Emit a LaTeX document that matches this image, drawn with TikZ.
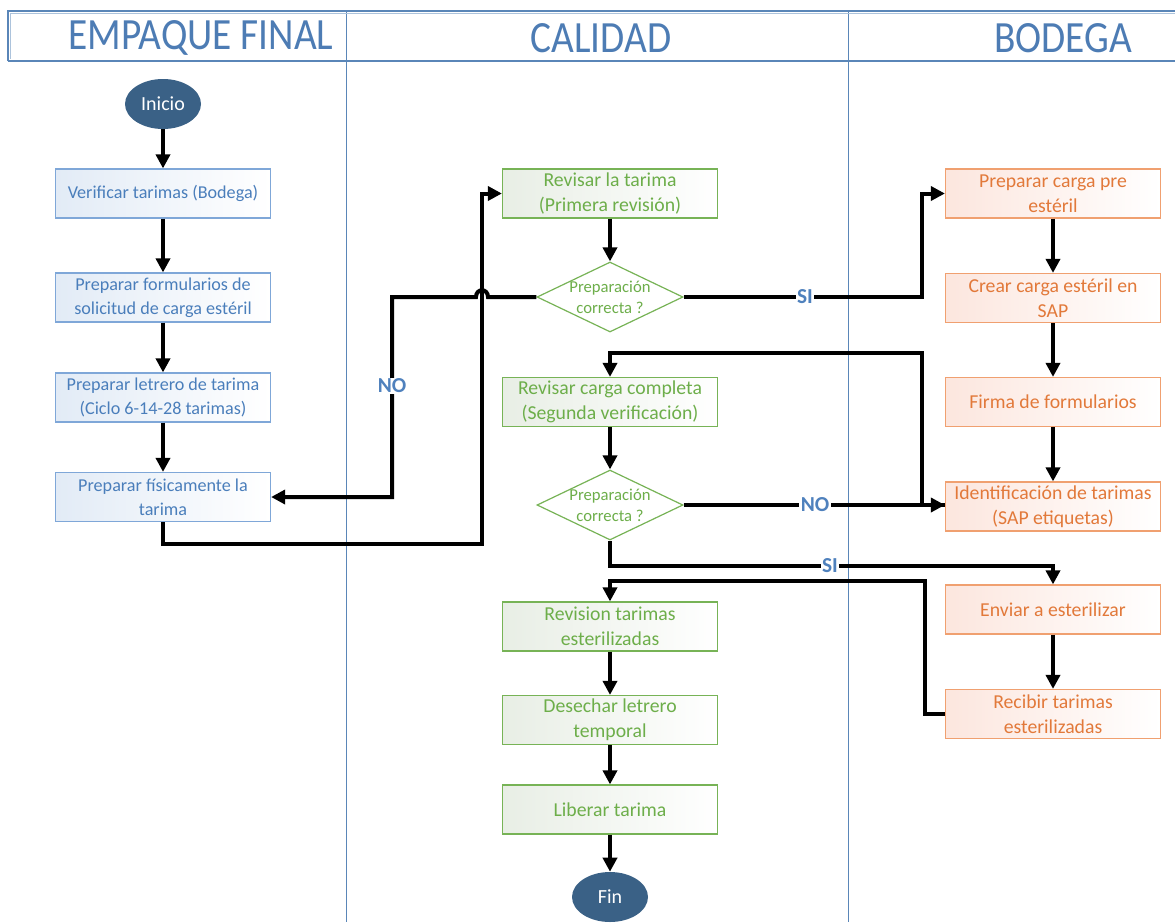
\documentclass[tikz,border=0pt]{standalone}
\usepackage{fontspec}
\setmainfont{Carlito}
\usetikzlibrary{arrows.meta,shapes.geometric,calc}
\definecolor{lane}{HTML}{5A86B8}
\definecolor{htext}{HTML}{4D7CB4}
\definecolor{bbord}{HTML}{7FA7D8}
\definecolor{btext}{HTML}{4A7EBB}
\definecolor{bfill}{HTML}{E2EBF6}
\definecolor{gbord}{HTML}{77B356}
\definecolor{gtext}{HTML}{6DAE4A}
\definecolor{gfill}{HTML}{E8EEE5}
\definecolor{obord}{HTML}{F0A070}
\definecolor{otext}{HTML}{E2793A}
\definecolor{ofill}{HTML}{FCE6DE}
\definecolor{ovalfill}{HTML}{3A6186}
\definecolor{lbltext}{HTML}{4F81BD}
\tikzset{
  box/.style={rectangle, minimum width=161.25pt, minimum height=36.75pt, align=center, line width=0.9pt, inner sep=2pt},
  bluebox/.style={box, draw=bbord, left color=bfill, right color=white, text=btext, font=\fontsize{13.6}{18}\selectfont},
  greenbox/.style={box, draw=gbord, left color=gfill, right color=white, text=gtext, font=\fontsize{14.8}{18.5}\selectfont},
  orangebox/.style={box, draw=obord, left color=ofill, right color=white, text=otext, font=\fontsize{14.8}{18.5}\selectfont},
  dec/.style={diamond, draw=gbord, line width=0.9pt, fill=white, minimum width=109.5pt, minimum height=52.5pt, inner sep=0pt},
  dectext/.style={align=center, text=gtext, font=\fontsize{12.5}{16}\selectfont},
  startend/.style={ellipse, fill=ovalfill, text=white, minimum width=57pt, minimum height=37.5pt, inner sep=0pt, font=\fontsize{15}{17}\selectfont},
  ln/.style={line width=3pt, black},
  arr/.style={ln, -{Triangle[length=10.5pt,width=10.5pt]}},
  lbl/.style={fill=white, inner sep=1pt, text=lbltext, font=\fontsize{16}{18}\bfseries},
  header/.style={text=htext, font=\fontsize{33.5}{36}\selectfont}
}
\begin{document}
\begin{tikzpicture}[x=0.75pt,y=-0.75pt]
\useasboundingbox (0,0) rectangle (1175,922);
\begin{scope}
\clip (0,0) rectangle (1175,922);
% lanes
\draw[lane, line width=0.7pt] (346,11) -- (346,922);
\draw[lane, line width=0.7pt] (848,11) -- (848,922);
\draw[lane, line width=1.6pt] (8,61) -- (8,11) -- (1185,11);
\draw[lane, line width=1.6pt] (8,61) -- (1185,61);
\draw[lane!50, line width=0.5pt] (10.5,58.5) -- (10.5,13.5) -- (1185,13.5);
\node[header] (h1) at (201,38) {\scalebox{0.88}[1]{EMPAQUE FINAL}};
\node[header] (h2) at (601,38) {\scalebox{0.88}[1]{CALIDAD}};
\node[header] (h3) at (1063,38) {\scalebox{0.88}[1]{BODEGA}};

% left lane
\node[startend] (ini) at (163,104) {Inicio};
\node[bluebox] (b1) at (163,193.5) {Verificar tarimas (Bodega)};
\node[bluebox] (b2) at (163,297.5) {Preparar formularios de\\solicitud de carga estéril};
\node[bluebox] (b3) at (163,397.5) {Preparar letrero de tarima\\(Ciclo 6-14-28 tarimas)};
\node[bluebox] (b4) at (163,497) {Preparar físicamente la\\tarima};

% middle lane
\node[greenbox] (m1) at (610,193.5) {Revisar la tarima\\(Primera revisión)};
\node[dec] (d1) at (610,297) {};
\node[dectext] (d1t) at (610,297) {Preparación\\correcta ?};
\node[greenbox] (m2) at (610,402) {Revisar carga completa\\(Segunda verificación)};
\node[dec] (d2) at (610,505) {};
\node[dectext] (d2t) at (610,505) {Preparación\\correcta ?};
\node[greenbox] (m3) at (610,626.5) {Revision tarimas\\esterilizadas};
\node[greenbox] (m4) at (610,720) {Desechar letrero\\temporal};
\node[greenbox] (m5) at (610,809.5) {Liberar tarima};
\node[startend] (fin) at (610,897) {Fin};

% right lane
\node[orangebox] (r1) at (1053,193.5) {Preparar carga pre\\estéril};
\node[orangebox] (r2) at (1053,298) {Crear carga estéril en\\SAP};
\node[orangebox] (r3) at (1053,402) {Firma de formularios};
\node[orangebox] (r4) at (1053,506.5) {Identificación de tarimas\\(SAP etiquetas)};
\node[orangebox] (r5) at (1053,609.5) {Enviar a esterilizar};
\node[orangebox] (r6) at (1053,714) {Recibir tarimas\\esterilizadas};

% straight arrows
\draw[arr] (ini) -- (b1);
\draw[arr] (b1) -- (b2);
\draw[arr] (b2) -- (b3);
\draw[arr] (b3) -- (b4);
\draw[arr] (m1.south) -- (d1.north);
\draw[arr] (m2.south) -- (d2.north);
\draw[arr] (m3) -- (m4);
\draw[arr] (m4) -- (m5);
\draw[arr] (m5) -- (fin);
\draw[arr] (r1) -- (r2);
\draw[arr] (r2) -- (r3);
\draw[arr] (r3) -- (r4);
\draw[arr] (r5) -- (r6);

% elbow connectors
\coordinate (c1) at (482,544);
\draw[arr] (b4.south) |- (c1) |- (m1.west);
\coordinate (c2) at (392,297);
\draw[arr] (d1.west) -- (488,297) .. controls (488,288) and (476,288) .. (476,297) -- (c2) |- (b4.east);
\node[lbl] (no1) at (392,386) {NO};
\coordinate (c3) at (922,297);
\draw[arr] (d1.east) -- (c3) |- (r1.west);
\node[lbl] (si1) at (805,297) {SI};
\draw[arr] (d2.east) -- (r4.west |- d2.east);
\node[lbl] (no2) at (815,505) {NO};
\coordinate (c4) at (922,353);
\draw[arr] (r4.west |- d2.east) -- (922,505) -- (c4) -| (m2.north);
\coordinate (c5) at (610,566);
\draw[arr] (d2.south) -- (c5) -| (r5.north);
\node[lbl] (si2) at (830,566) {SI};
\coordinate (c6) at (925,581);
\draw[arr] (r6.west) -| (c6) -| (m3.north);
\end{scope}
\end{tikzpicture}
\end{document}
